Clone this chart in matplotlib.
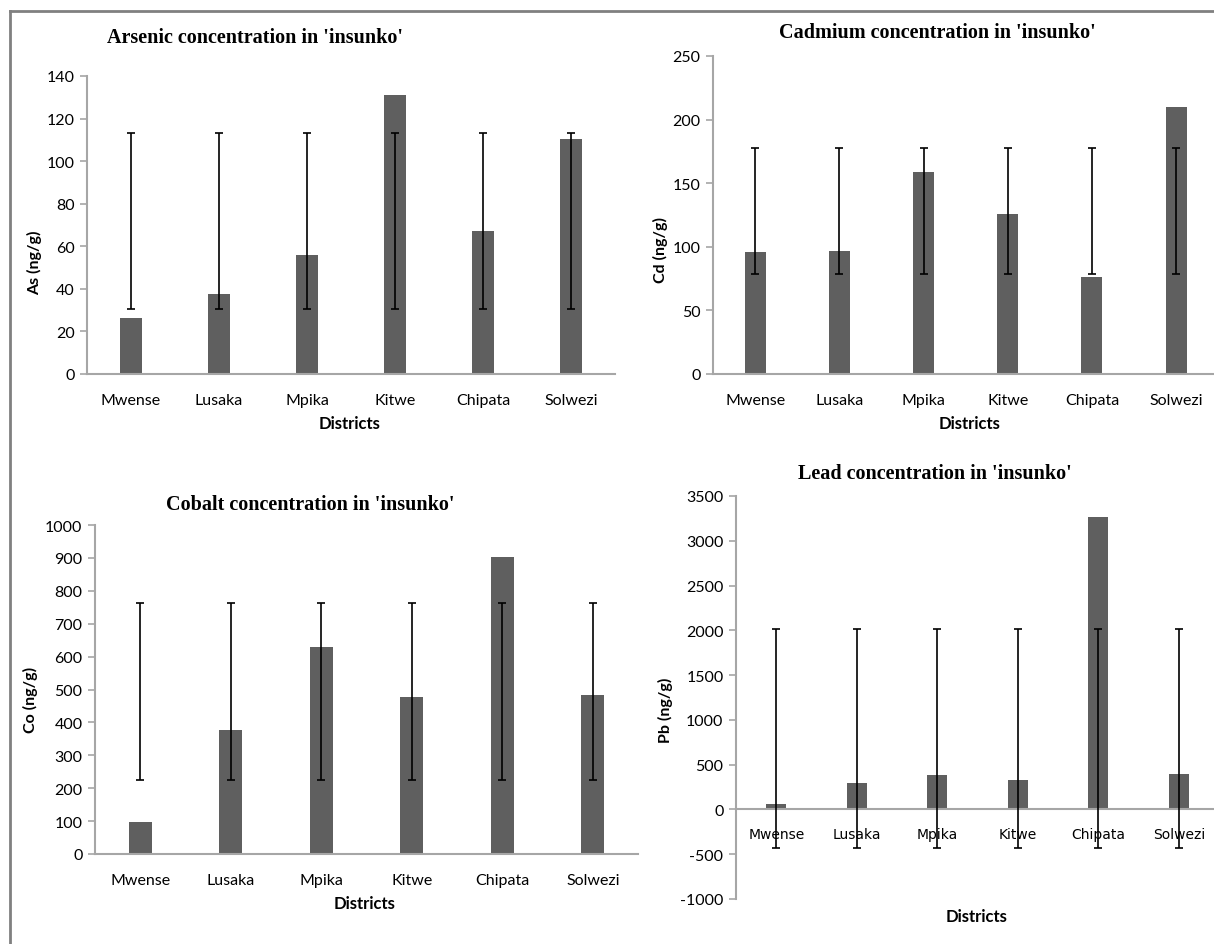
import matplotlib
matplotlib.use("Agg")
import matplotlib.pyplot as plt
from matplotlib.lines import Line2D

districts = ["Mwense", "Lusaka", "Mpika", "Kitwe", "Chipata", "Solwezi"]

as_values = [26.5, 37.5, 56, 131, 67, 110.5]
as_err_lo = [30.5] * 6
as_err_hi = [113] * 6

cd_values = [96, 97, 159, 126, 76, 210]
cd_err_lo = [78.5] * 6
cd_err_hi = [177.5] * 6

co_values = [97, 378, 630, 478, 902, 482]
co_err_lo = [226] * 6
co_err_hi = [763] * 6

pb_values = [65, 300, 385, 325, 3265, 400]
pb_err_lo = [-430] * 6
pb_err_hi = [2015] * 6

W, H = 1214, 945
fig = plt.figure(figsize=(W / 100, H / 100), dpi=100)
fig.patch.set_facecolor("white")

# outer frame (top and left edges visible)
fig.add_artist(Line2D([10 / W, 10 / W], [0, 1 - 12 / H], transform=fig.transFigure,
                      color="#808080", lw=2))
fig.add_artist(Line2D([10 / W, 1], [1 - 12 / H, 1 - 12 / H], transform=fig.transFigure,
                      color="#808080", lw=2))

TICK_FONT = "Lato"
BAR_COLOR = "#5f5f5f"
AX_COLOR = "#a6a6a6"


def px_axes(left, right, top, bottom):
    return [left / W, 1 - bottom / H, (right - left) / W, (bottom - top) / H]


def panel(rect, values, lo, hi, ylim, yticks, ylabel, title, title_xy, ylabel_xy,
          xlabel_xy, zero_axis=False, label_color="black"):
    ax = fig.add_axes(rect)
    x = list(range(len(districts)))
    ax.bar(x, values, width=0.25, color=BAR_COLOR, zorder=2)
    centers = [(a + b) / 2 for a, b in zip(lo, hi)]
    yerr = [[c - a for c, a in zip(centers, lo)], [b - c for c, b in zip(centers, hi)]]
    ax.errorbar(x, centers, yerr=yerr, fmt="none", ecolor="black", elinewidth=1.2,
                capsize=3.2, capthick=1.2, zorder=3)
    ax.set_xlim(-0.5, len(districts) - 0.5)
    ax.set_ylim(*ylim)
    ax.set_yticks(yticks)
    ax.set_yticklabels([str(t) for t in yticks], fontfamily=TICK_FONT, fontsize=11.5)
    ax.set_xticks(x)
    ax.set_xticklabels(districts, fontfamily=TICK_FONT, fontsize=11.5, color=label_color)
    for s in ["top", "right"]:
        ax.spines[s].set_visible(False)
    for s in ["left", "bottom"]:
        ax.spines[s].set_color(AX_COLOR)
        ax.spines[s].set_linewidth(1.5)
    if zero_axis:
        ax.spines["bottom"].set_position(("data", 0))
        ax.tick_params(axis="x", length=0, pad=13)
    else:
        ax.tick_params(axis="x", length=0, pad=14)
    ax.tick_params(axis="y", length=5, width=1.2, color=AX_COLOR, pad=4)
    fig.text(title_xy[0] / W, 1 - title_xy[1] / H, title, ha="center", va="center",
             fontfamily="Liberation Serif", fontweight="bold", fontsize=14.5)
    fig.text(ylabel_xy[0] / W, 1 - ylabel_xy[1] / H, ylabel, ha="center", va="center",
             rotation=90, fontfamily=TICK_FONT, fontweight="bold", fontsize=11.5)
    fig.text(xlabel_xy[0] / W, 1 - xlabel_xy[1] / H, "Districts", ha="center",
             va="center", fontfamily=TICK_FONT, fontweight="bold", fontsize=12)
    return ax


panel(px_axes(87, 87 + 6 * 88, 77, 375), as_values, as_err_lo, as_err_hi,
      (0, 140), list(range(0, 141, 20)), "As (ng/g)",
      "Arsenic concentration in 'insunko'", (255, 38), (35, 263), (350, 424))

panel(px_axes(713, 713 + 6 * 84.2, 57, 375), cd_values, cd_err_lo, cd_err_hi,
      (0, 250), list(range(0, 251, 50)), "Cd (ng/g)",
      "Cadmium concentration in 'insunko'", (937, 33), (660, 250), (970, 424))

panel(px_axes(95, 95 + 6 * 90.5, 526, 855), co_values, co_err_lo, co_err_hi,
      (0, 1000), list(range(0, 1001, 100)), "Co (ng/g)",
      "Cobalt concentration in 'insunko'", (310, 505), (30, 700), (365, 904))

panel(px_axes(736, 736 + 6 * 80.5, 497, 900), pb_values, pb_err_lo, pb_err_hi,
      (-1000, 3500), list(range(-1000, 3501, 500)), "Pb (ng/g)",
      "Lead concentration in 'insunko'", (935, 474), (665, 710), (977, 917),
      zero_axis=True, label_color="#595959")

fig.savefig("out.png", dpi=100, facecolor="white")
